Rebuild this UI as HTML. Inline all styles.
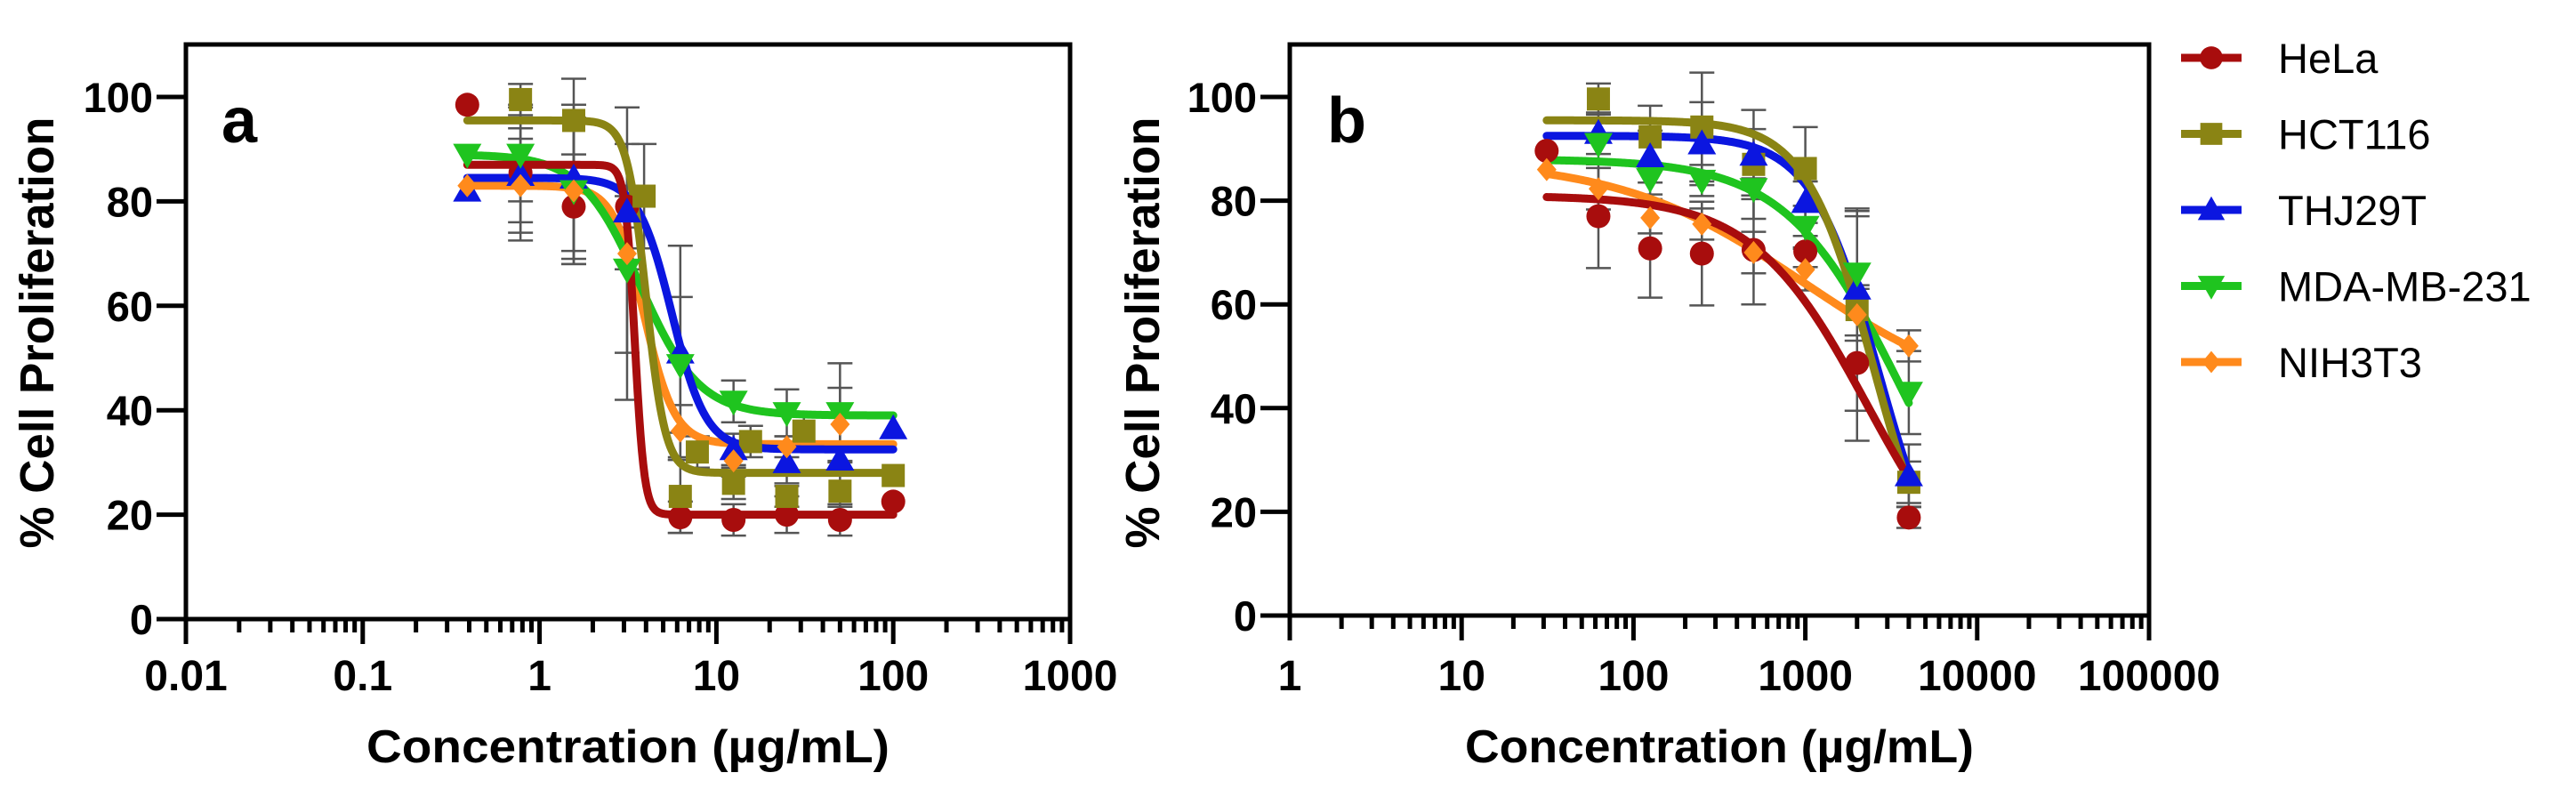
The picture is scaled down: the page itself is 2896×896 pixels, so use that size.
<!DOCTYPE html>
<html><head><meta charset="utf-8">
<style>
html,body{margin:0;padding:0;background:#fff;}
svg{display:block;}
text{font-family:"Liberation Sans",Arial,sans-serif;}
</style></head>
<body>
<svg id="fig" width="2896" height="896" viewBox="0 0 2896 896" xmlns="http://www.w3.org/2000/svg">
<rect x="0" y="0" width="2896" height="896" fill="#fff"/>
</svg>
<script>
// ---- shared series meta ----
const seriesNames = ["HeLa","HCT116","THJ29T","MDA-MB-231","NIH3T3"];
const seriesColors = ["#a80d0d","#8a8414","#0b16e0","#1fc41f","#ff8a1c"];
const seriesShapes = ["circle","square","triangle","tridown","diamond"];

// ---- panel a data ----
const aX_HeLa = [0.39,0.78,1.56,3.125,6.25,12.5,25,50,100];
const aY_HeLa = [98.5,85.5,79,79,19.5,19,20,19,22.5];
const aE_HeLa = [0,13,10,12,3,3,3.5,3,0];
const aX_HCT = [0.78,1.56,3.9,6.25,7.8,12.5,15.6,25,31.25,50,100];
const aY_HCT = [99.5,95.5,81,23.5,32,26,34,23.5,36,24.5,27.5];
const aE_HCT = [3,8,10,7,3,3,3,2,3,3,0];
const aX_THJ = [0.39,0.78,1.56,3.125,6.25,12.5,25,50,100];
const aY_THJ = [82,85,84.5,78,51,32.5,30,30.5,36.5];
const aE_THJ = [0,9,14,3,20.5,3,4,3,0];
const aX_MDA = [0.39,0.78,1.56,3.125,6.25,12.5,25,50];
const aY_MDA = [89,89,82,67,48.7,41.7,39.5,39.5];
const aE_MDA = [0,9,14,16,13,4,4.5,9.5];
const aX_NIH = [0.39,0.78,1.56,3.125,6.25,12.5,25,50];
const aY_NIH = [83,83,82,70,36,30.3,33,37.3];
const aE_NIH = [0,9,14,28,5,3,2,7];
// 4PL fit parameters panel a: top, bottom, EC50, hill
const aFitTop = [87,95.5,84.5,89,83];
const aFitBottom = [20,28,32.5,39,33.5];
const aFitEC50 = [3.45,4.0,5.6,3.7,3.9];
const aFitHill = [16,8,4.5,2.6,5];
const aFitRange = [0.39,100];

// ---- panel b data ----
const bX_HeLa = [31.25,62.5,125,250,500,1000,2000,4000];
const bY_HeLa = [89.6,77,70.8,69.8,70.5,70.2,48.7,18.9];
const bE_HeLa = [0,10,9.5,10,10.5,3,15,2];
const bX_HCT = [62.5,125,250,500,1000,2000,4000];
const bY_HCT = [99.6,92.3,94.2,87,86.2,59,25.7];
const bE_HCT = [3,6,10.5,10.5,8,19.5,4];
const bX_THJ = [62.5,125,250,500,1000,2000,4000];
const bY_THJ = [93,88.5,91,88.8,79.7,63,27];
const bE_THJ = [4,5,8,5,4,14,6];
const bX_MDA = [62.5,125,250,500,1000,2000,4000];
const bY_MDA = [91,84.2,83.9,82.3,75,66,43];
const bE_MDA = [4,3,3,2,4,12,8];
const bX_NIH = [31.25,62.5,125,250,500,1000,2000,4000];
const bY_NIH = [86,82.3,76.7,75.5,70,66.7,58,52];
const bE_NIH = [0,4,3,3,4,4,5,3];
const bFitTop = [81,95.5,92.5,88,88];
const bFitBottom = [0,0,0,0,40];
const bFitEC50 = [2300,2500,2700,3600,1000];
const bFitHill = [1.3,2.2,2.2,1.3,0.8];
const bFitRange = [31.25,4000];

const yTicks = [0,20,40,60,80,100];
const aXTicks = ["0.01","0.1","1","10","100","1000"];
const bXTicks = ["1","10","100","1000","10000","100000"];

const NS = "http://www.w3.org/2000/svg";
const svg = document.getElementById("fig");
function mk(tag, attrs, parent){
  const e = document.createElementNS(NS, tag);
  for (const k in attrs) e.setAttribute(k, attrs[k]);
  (parent||svg).appendChild(e);
  return e;
}

function marker(g, shape, cx, cy, color, s){
  let e;
  if (shape==="circle") e = mk("circle",{cx:cx,cy:cy,r:13.5*s,fill:color},g);
  else if (shape==="square") e = mk("rect",{x:cx-13*s,y:cy-13*s,width:26*s,height:26*s,fill:color},g);
  else if (shape==="triangle") e = mk("polygon",{points:`${cx},${cy-16*s} ${cx+16*s},${cy+12*s} ${cx-16*s},${cy+12*s}`,fill:color},g);
  else if (shape==="tridown") e = mk("polygon",{points:`${cx},${cy+16*s} ${cx+16*s},${cy-12*s} ${cx-16*s},${cy-12*s}`,fill:color},g);
  else e = mk("polygon",{points:`${cx},${cy-13*s} ${cx+11*s},${cy} ${cx},${cy+13*s} ${cx-11*s},${cy}`,fill:color},g);
  return e;
}

function panel(cfg){
  const L=cfg.left,R=cfg.right,T=50,B=cfg.bottom,y100=cfg.y100;
  const lmin=cfg.logMin,lmax=cfg.logMax;
  const xs = v => L + (Math.log10(v)-lmin)/(lmax-lmin)*(R-L);
  const ys = v => B - v*(B-y100)/100;
  const g = mk("g",{});
  
  

  // frame
  const frame = mk("rect",{x:L,y:T,width:R-L,height:B-T,fill:"none",stroke:"#000","stroke-width":5},g);
  
  

  // y ticks
  const yax = mk("g",{},g);
  
  
  yTicks.forEach(v=>{
    mk("line",{x1:L-33,x2:L,y1:ys(v),y2:ys(v),stroke:"#000","stroke-width":5},yax);
    const t = mk("text",{x:L-37,y:ys(v)+17,"text-anchor":"end","font-size":47,"font-weight":"bold"},yax);
    t.textContent = v;
    
    
  });
  // x ticks
  const xax = mk("g",{},g);
  
  
  for (let d=lmin; d<=lmax; d++){
    const X = xs(Math.pow(10,d));
    mk("line",{x1:X,x2:X,y1:B,y2:B+28,stroke:"#000","stroke-width":5},xax);
    if (d<lmax){
      for (let m=2;m<=9;m++){
        const xm = xs(m*Math.pow(10,d));
        mk("line",{x1:xm,x2:xm,y1:B,y2:B+15,stroke:"#000","stroke-width":5},xax);
      }
    }
  }
  cfg.xTicks.forEach((lab,i)=>{
    const t = mk("text",{x:xs(Math.pow(10,lmin+i)),y:776,"text-anchor":"middle","font-size":48,"font-weight":"bold"},xax);
    t.textContent = lab;
    
    
  });

  // titles
  const xt = mk("text",{x:(L+R)/2,y:857,"text-anchor":"middle","font-size":52,"font-weight":"bold",textLength:cfg.xTitleLen,lengthAdjust:"spacingAndGlyphs"},g);
  xt.textContent = "Concentration (\u00b5g/mL)";
  
  
  const yt = mk("text",{x:0,y:0,"text-anchor":"middle","font-size":54,"font-weight":"bold",textLength:485,lengthAdjust:"spacingAndGlyphs",transform:`translate(${cfg.yTitleX},374) rotate(-90)`},g);
  yt.textContent = "% Cell Proliferation";
  
  
  const pl = mk("text",{x:cfg.letterX,y:160,"font-size":72,"font-weight":"bold"},g);
  pl.textContent = cfg.letter;
  
  

  // error bars
  const eg = mk("g",{},g);
  
  
  cfg.series.forEach(s=>{
    s.x.forEach((xv,i)=>{
      const e=s.e[i]; if(!e) return;
      const X=xs(xv), y1=ys(s.y[i]-e), y2=ys(s.y[i]+e);
      mk("line",{x1:X,x2:X,y1:y1,y2:y2,stroke:"#555","stroke-width":2.5},eg);
      mk("line",{x1:X-14,x2:X+14,y1:y1,y2:y1,stroke:"#555","stroke-width":2.5},eg);
      mk("line",{x1:X-14,x2:X+14,y1:y2,y2:y2,stroke:"#555","stroke-width":2.5},eg);
    });
  });

  // fit curves
  for (let k=cfg.series.length-1;k>=0;k--){
    const top=cfg.top[k],bot=cfg.bot[k],ec=cfg.ec[k],h=cfg.hill[k];
    const a=Math.log10(cfg.range[0]), b=Math.log10(cfg.range[1]);
    let d="";
    for (let i=0;i<=300;i++){
      const lx=a+(b-a)*i/300, xv=Math.pow(10,lx);
      const yv=bot+(top-bot)/(1+Math.pow(xv/ec,h));
      d+=(i?"L":"M")+xs(xv).toFixed(2)+","+ys(yv).toFixed(2);
    }
    const p = mk("path",{d:d,fill:"none",stroke:seriesColors[k],"stroke-width":9,"stroke-linejoin":"round","stroke-linecap":"round"},g);
    
    
  }
  // points
  cfg.series.forEach((s,k)=>{
    const pg = mk("g",{},g);
    
    
    s.x.forEach((xv,i)=>{
      const m = marker(pg, seriesShapes[k], xs(xv), ys(s.y[i]), seriesColors[k], 1);
      
      
    });
  });
}

panel({name:"panel-a",left:209,right:1203,bottom:696,y100:109,logMin:-2,logMax:3,xTicks:aXTicks,
  xTitleLen:588,yTitleX:60,letter:"a",letterX:249,range:aFitRange,
  top:aFitTop,bot:aFitBottom,ec:aFitEC50,hill:aFitHill,
  series:[{x:aX_HeLa,y:aY_HeLa,e:aE_HeLa},{x:aX_HCT,y:aY_HCT,e:aE_HCT},{x:aX_THJ,y:aY_THJ,e:aE_THJ},{x:aX_MDA,y:aY_MDA,e:aE_MDA},{x:aX_NIH,y:aY_NIH,e:aE_NIH}]});
panel({name:"panel-b",left:1450,right:2416,bottom:692,y100:109,logMin:0,logMax:5,xTicks:bXTicks,
  xTitleLen:572,yTitleX:1303,letter:"b",letterX:1492,range:bFitRange,
  top:bFitTop,bot:bFitBottom,ec:bFitEC50,hill:bFitHill,
  series:[{x:bX_HeLa,y:bY_HeLa,e:bE_HeLa},{x:bX_HCT,y:bY_HCT,e:bE_HCT},{x:bX_THJ,y:bY_THJ,e:bE_THJ},{x:bX_MDA,y:bY_MDA,e:bE_MDA},{x:bX_NIH,y:bY_NIH,e:bE_NIH}]});

// legend
const lg = mk("g",{});


seriesNames.forEach((n,k)=>{
  const cy = 65 + k*85.5;
  const eg = mk("g",{},lg);
  
  
  mk("line",{x1:2452,x2:2520,y1:cy,y2:cy,stroke:seriesColors[k],"stroke-width":9},eg);
  marker(eg, seriesShapes[k], 2486, cy, seriesColors[k], 0.95);
  const t = mk("text",{x:2561,y:cy+17,"font-size":47},eg);
  t.textContent = n;
  
  
});
</script>
</body></html>
